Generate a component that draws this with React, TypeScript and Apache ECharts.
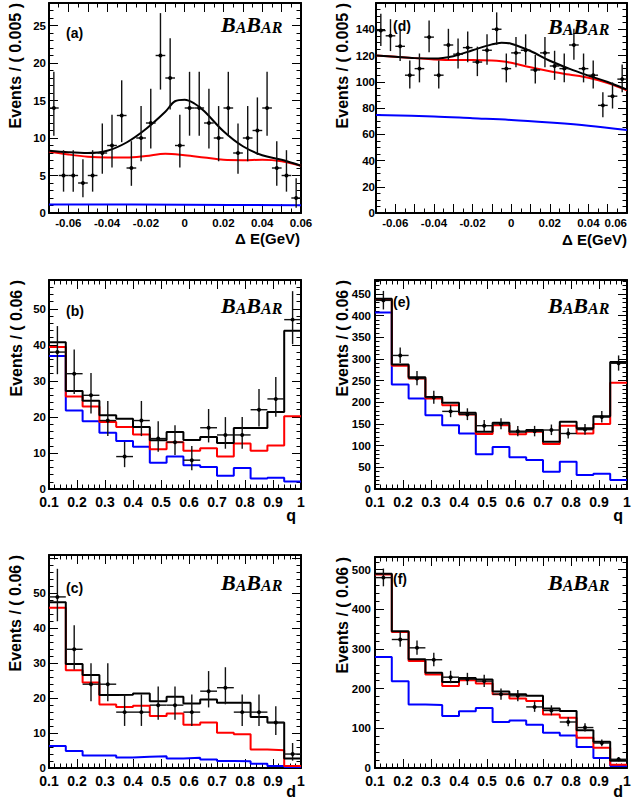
import React, { useEffect, useRef } from "react";
import * as echarts from "echarts";

// ================= DATA =================
// ΔE panels (a) and (d): bin width 0.005 GeV
const dEBinCenters = [
  -0.0675, -0.0625, -0.0575, -0.0525, -0.0475, -0.0425, -0.0375, -0.0325, -0.0275,
  -0.0225, -0.0175, -0.0125, -0.0075, -0.0025, 0.0025, 0.0075, 0.0125, 0.0175,
  0.0225, 0.0275, 0.0325, 0.0375, 0.0425, 0.0475, 0.0525, 0.0575,
];
const dEBinWidth = 0.005;
const aCounts = [14, 5, 5, 4, 5, 8, 9, 13, 6, 10, 12, 21, 18, 9, 14, 14, 12, 10, 14, 8, 10, 11, 14, 6, 5, 2];
const dCounts = [139, 135, 127, 105, 110, 134, 105, 128, 121, 126, 115, 124, 140, 110, 122, 124, 109, 122, 112, 110, 128, 110, 105, 82, 89, 102];

// fit curves
const aTotalX = [-0.07, -0.06, -0.05, -0.04, -0.03, -0.02, -0.01, -0.005, 0, 0.005, 0.01, 0.02, 0.03, 0.04, 0.05, 0.06];
const aTotalY = [8.3, 8.1, 8.0, 8.3, 9.4, 11.2, 13.5, 14.9, 15.1, 14.6, 13.6, 10.9, 8.9, 7.7, 7.1, 6.3];
const aBkgX = [-0.07, -0.06, -0.05, -0.04, -0.03, -0.02, -0.01, 0, 0.01, 0.02, 0.03, 0.04, 0.05, 0.06];
const aBkgY = [8.2, 7.8, 7.5, 7.4, 7.4, 7.6, 7.9, 7.7, 7.4, 7.1, 7.05, 7.1, 6.9, 6.3];
const aCombX = [-0.07, 0, 0.06];
const aCombY = [1.15, 1.1, 1.05];

// fit curves
const dTotalX = [-0.07, -0.06, -0.05, -0.04, -0.03, -0.02, -0.01, -0.005, 0, 0.01, 0.02, 0.03, 0.04, 0.05, 0.06];
const dTotalY = [120, 119, 118, 117.7, 119.5, 124, 128.5, 129.8, 129, 123.4, 116, 110, 104.7, 99.8, 94];
const dBkgX = [-0.07, -0.06, -0.05, -0.04, -0.03, -0.02, -0.01, -0.005, 0, 0.01, 0.02, 0.03, 0.04, 0.05, 0.06];
const dBkgY = [120, 119, 118, 117, 116.5, 116.5, 116.2, 115.6, 114.4, 111, 108, 105.5, 103, 99, 93.4];
const dCombX = [-0.07, -0.04, -0.02, 0, 0.02, 0.04, 0.06];
const dCombY = [74.7, 73.5, 72.2, 70.9, 68.9, 66.5, 63.2];

// q and d panels: bin width 0.06 from 0.1 to 1.0
const binCenters = [0.13, 0.19, 0.25, 0.31, 0.37, 0.43, 0.49, 0.55, 0.61, 0.67, 0.73, 0.79, 0.85, 0.91, 0.97];
const binWidth = 0.06;

const bData = [38, 32, 26, 19, 9, 19, 14, 13, 8, 17, 15, 15, 22, 25, 47];
const bTotal = [40.7, 27.2, 24.5, 20.5, 19.5, 17.2, 13.5, 15.8, 13.6, 14.4, 12.8, 16.9, 16.9, 21.4, 43.9];
const bRed = [39.4, 25.7, 22.9, 18.6, 17.2, 15.1, 11, 13, 10.6, 11.3, 9, 12.6, 10.6, 12.1, 20.2];
const bBlue = [36.9, 21.8, 18.8, 15.6, 13.3, 11.7, 7.3, 9, 6.6, 6.1, 3.7, 5.8, 2.9, 3.1, 2.1];

const eData = [435, 308, 255, 211, 179, 172, 146, 150, 133, 133, 136, 128, 137, 166, 290];
const eTotal = [439, 287, 258, 212, 199, 176, 132, 153, 132, 136, 109, 155, 140, 168, 293];
const eRed = [436, 284, 255, 209, 193, 172, 127, 147, 126, 132, 104, 146, 128, 150, 245];
const eBlue = [407, 241, 209, 170, 147, 128, 80, 97, 73, 67, 40, 63, 32, 35, 21];

const cData = [49, 34, 24, 24, 16, 16, 18, 18, 16, 22, 23, 16, 16, 13, 4];
const cTotal = [47.5, 29.8, 26.6, 20.9, 21, 21.3, 19.1, 20.4, 18.5, 19.6, 18.7, 18.7, 14.6, 13, 2.7];
const cRed = [45.9, 28, 24.5, 18.2, 17.5, 17.8, 14.9, 15.6, 12.4, 13, 10.1, 9.7, 5.3, 5.1, 0.6];
const cBlue = [6.3, 4.9, 3.6, 3.6, 3, 3.2, 3.4, 2.7, 2.9, 2.4, 2, 1.9, 1.2, 0.6, 0.3];

const fData = [480, 324, 303, 273, 229, 224, 219, 186, 182, 154, 145, 116, 102, 63, 22];
const fTotal = [490, 345, 274, 240, 217, 227, 223, 193, 186, 182, 150, 144, 95, 66, 18];
const fRed = [488, 343, 270, 236, 207, 221, 213, 186, 175, 169, 135, 127, 76, 51, 8];
const fBlue = [280, 219, 160, 159, 131, 143, 151, 116, 120, 109, 89, 82, 53, 25, 5];

// ================= HELPERS =================
const SANS = '"Liberation Sans", Arial, Helvetica, sans-serif';
const SERIF = '"Liberation Serif", "Times New Roman", serif';
const RED = "#ff0000";
const BLUE = "#0000ff";
const BLACK = "#000000";

// Poisson 68.3% central interval (Wilson–Hilferty approximation), as drawn for event counts
function poissonLow(n: number) {
  if (n <= 0) return 0;
  const t = 1 - 1 / (9 * n) - 1 / (3 * Math.sqrt(n));
  return n * t * t * t;
}
function poissonHigh(n: number) {
  const m = n + 1;
  const t = 1 - 1 / (9 * m) + 1 / (3 * Math.sqrt(m));
  return m * t * t * t;
}

function dEfmt(v: number) {
  const k = Math.round(v * 100);
  if (k % 2 !== 0) return "";
  return String(+v.toFixed(2));
}
function qfmt(v: number) {
  return String(+v.toFixed(2));
}

type Layout = { left: number; top: number; width: number; height: number };
type PanelSpec = {
  layout: Layout;
  xMin: number; xMax: number; xInt: number; xMinor: number; xFmt: (v: number) => string; xFont: number; xMargin: number; xMaxAlign: string | null;
  yMax: number; yInt: number; yMinor: number; yMargin: number; yLabelTop: number;
};

const panels: PanelSpec[] = [
  { layout: { left: 49, top: 3, width: 252, height: 210 }, xMin: -0.07, xMax: 0.06, xInt: 0.01, xMinor: 2, xFmt: dEfmt, xFont: 11.5, xMargin: 4, xMaxAlign: null, yMax: 28, yInt: 5, yMinor: 5, yMargin: 3, yLabelTop: 25 },
  { layout: { left: 376, top: 3, width: 251, height: 210 }, xMin: -0.07, xMax: 0.06, xInt: 0.01, xMinor: 2, xFmt: dEfmt, xFont: 11.5, xMargin: 4, xMaxAlign: "right", yMax: 160, yInt: 20, yMinor: 4, yMargin: 1, yLabelTop: 140 },
  { layout: { left: 49, top: 280, width: 252, height: 209 }, xMin: 0.1, xMax: 1, xInt: 0.1, xMinor: 5, xFmt: qfmt, xFont: 14, xMargin: 6, xMaxAlign: null, yMax: 58, yInt: 10, yMinor: 5, yMargin: 3, yLabelTop: 50 },
  { layout: { left: 375, top: 280, width: 252, height: 209 }, xMin: 0.1, xMax: 1, xInt: 0.1, xMinor: 5, xFmt: qfmt, xFont: 14, xMargin: 6, xMaxAlign: null, yMax: 482, yInt: 50, yMinor: 5, yMargin: 4, yLabelTop: 450 },
  { layout: { left: 49, top: 555, width: 252, height: 213 }, xMin: 0.1, xMax: 1, xInt: 0.1, xMinor: 5, xFmt: qfmt, xFont: 14, xMargin: 6, xMaxAlign: null, yMax: 61, yInt: 10, yMinor: 5, yMargin: 3, yLabelTop: 50 },
  { layout: { left: 375, top: 557, width: 252, height: 211 }, xMin: 0.1, xMax: 1, xInt: 0.1, xMinor: 5, xFmt: qfmt, xFont: 14, xMargin: 6, xMaxAlign: null, yMax: 532, yInt: 100, yMinor: 5, yMargin: 4, yLabelTop: 500 },
];

function axisBase(gi: number, min: number, max: number, interval: number, minorSplit: number) {
  return {
    type: "value",
    gridIndex: gi,
    min,
    max,
    interval,
    axisLine: { show: true, onZero: false, lineStyle: { color: BLACK, width: 2 } },
    axisTick: { show: true, inside: true, length: 9, lineStyle: { color: BLACK, width: 1 } },
    minorTick: { show: true, splitNumber: minorSplit, length: 4.5, lineStyle: { color: BLACK, width: 1 } },
    splitLine: { show: false },
    minorSplitLine: { show: false },
  };
}

function histSeries(gi: number, centers: number[], vals: number[], w: number, color: string, z: number) {
  const pts: number[][] = centers.map((c, i) => [c - w / 2, vals[i]]);
  pts.push([centers[centers.length - 1] + w / 2, vals[vals.length - 1]]);
  return {
    type: "line",
    xAxisIndex: 2 * gi,
    yAxisIndex: 2 * gi,
    step: "end",
    data: pts,
    showSymbol: false,
    symbol: "none",
    silent: true,
    z,
    lineStyle: { color, width: 2 },
  };
}

function curveSeries(gi: number, xs: number[], ys: number[], color: string, z: number) {
  return {
    type: "line",
    xAxisIndex: 2 * gi,
    yAxisIndex: 2 * gi,
    smooth: 0.35,
    data: xs.map((x, i) => [x, ys[i]]),
    showSymbol: false,
    symbol: "none",
    silent: true,
    z,
    lineStyle: { color, width: 2 },
  };
}

function dataSeries(gi: number, centers: number[], counts: number[], w: number) {
  const half = w / 2;
  return {
    type: "custom",
    xAxisIndex: 2 * gi,
    yAxisIndex: 2 * gi,
    clip: true,
    silent: true,
    z: 10,
    encode: { x: 0, y: 1 },
    data: centers.map((c, i) => [c, counts[i], poissonLow(counts[i]), poissonHigh(counts[i])]),
    renderItem: (_params: any, api: any) => {
      const x = api.value(0);
      const y = api.value(1);
      const lo = api.value(2);
      const hi = api.value(3);
      const pL = api.coord([x - half, y]);
      const pR = api.coord([x + half, y]);
      const pLo = api.coord([x, lo]);
      const pHi = api.coord([x, hi]);
      const c = api.coord([x, y]);
      const st = { stroke: "#111", lineWidth: 1.4 };
      return {
        type: "group",
        children: [
          { type: "line", shape: { x1: pL[0], y1: pL[1], x2: pR[0], y2: pR[1] }, style: st },
          { type: "line", shape: { x1: pLo[0], y1: pLo[1], x2: pHi[0], y2: pHi[1] }, style: st },
          { type: "circle", shape: { cx: c[0], cy: c[1], r: 2 }, style: { fill: "#000" } },
        ],
      };
    },
  };
}

function txt(x: number, y: number, text: string, size: number, align: string, valign: string, extra: any = {}) {
  return {
    type: "text",
    x,
    y,
    silent: true,
    z: 100,
    ...extra,
    style: {
      text,
      fontSize: size,
      fontWeight: "bold",
      fontFamily: SANS,
      fill: "#000",
      align,
      verticalAlign: valign,
      textAlign: align,
      textVerticalAlign: valign,
    },
  };
}

function babar(x: number, y: number) {
  return {
    type: "text",
    x,
    y,
    silent: true,
    z: 100,
    style: {
      text: "{b|B}{s|A}{b|B}{s|AR}",
      align: "left",
      verticalAlign: "bottom",
      textAlign: "left",
      textVerticalAlign: "bottom",
      rich: {
        b: { fontSize: 22, fontStyle: "italic", fontWeight: "bold", fontFamily: SERIF, fill: "#000", color: "#000", verticalAlign: "bottom", lineHeight: 22 },
        s: { fontSize: 16, fontStyle: "italic", fontWeight: "bold", fontFamily: SERIF, fill: "#000", color: "#000", verticalAlign: "bottom", lineHeight: 22 },
      },
    },
  };
}

function buildOption() {
  const grid: any[] = [];
  const xAxis: any[] = [];
  const yAxis: any[] = [];
  panels.forEach((p, gi) => {
    grid.push({ ...p.layout, containLabel: false, outerBoundsMode: "none", show: false });
    const xb = axisBase(gi, p.xMin, p.xMax, p.xInt, p.xMinor);
    const xLabel: any = { show: true, formatter: p.xFmt, fontSize: p.xFont, lineHeight: p.xFont, fontWeight: "bold", fontFamily: SANS, color: "#000", margin: p.xMargin };
    if (p.xMaxAlign) xLabel.alignMaxLabel = p.xMaxAlign;
    xAxis.push({ ...xb, position: "bottom", axisLabel: xLabel });
    xAxis.push({ ...xb, position: "top", axisLabel: { show: false } });
    const yb = axisBase(gi, 0, p.yMax, p.yInt, p.yMinor);
    const top = p.yLabelTop;
    yAxis.push({
      ...yb,
      position: "left",
      axisLabel: {
        show: true,
        showMaxLabel: false,
        formatter: (v: number) => (v > top + 1e-9 ? "" : String(+v.toFixed(2))),
        fontSize: 11.5,
        fontWeight: "bold",
        fontFamily: SANS,
        color: "#000",
        margin: p.yMargin,
      },
    });
    yAxis.push({ ...yb, position: "right", axisLabel: { show: false } });
  });

  const series: any[] = [
    // (a)
    curveSeries(0, aCombX, aCombY, BLUE, 2),
    curveSeries(0, aBkgX, aBkgY, RED, 3),
    curveSeries(0, aTotalX, aTotalY, BLACK, 4),
    dataSeries(0, dEBinCenters, aCounts, dEBinWidth),
    // (d)
    curveSeries(1, dCombX, dCombY, BLUE, 2),
    curveSeries(1, dBkgX, dBkgY, RED, 3),
    curveSeries(1, dTotalX, dTotalY, BLACK, 4),
    dataSeries(1, dEBinCenters, dCounts, dEBinWidth),
    // (b)
    histSeries(2, binCenters, bBlue, binWidth, BLUE, 2),
    histSeries(2, binCenters, bRed, binWidth, RED, 3),
    histSeries(2, binCenters, bTotal, binWidth, BLACK, 4),
    dataSeries(2, binCenters, bData, binWidth),
    // (e)
    histSeries(3, binCenters, eBlue, binWidth, BLUE, 2),
    histSeries(3, binCenters, eRed, binWidth, RED, 3),
    histSeries(3, binCenters, eTotal, binWidth, BLACK, 4),
    dataSeries(3, binCenters, eData, binWidth),
    // (c)
    histSeries(4, binCenters, cBlue, binWidth, BLUE, 2),
    histSeries(4, binCenters, cRed, binWidth, RED, 3),
    histSeries(4, binCenters, cTotal, binWidth, BLACK, 4),
    dataSeries(4, binCenters, cData, binWidth),
    // (f)
    histSeries(5, binCenters, fBlue, binWidth, BLUE, 2),
    histSeries(5, binCenters, fRed, binWidth, RED, 3),
    histSeries(5, binCenters, fTotal, binWidth, BLACK, 4),
    dataSeries(5, binCenters, fData, binWidth),
  ];

  const rot = { rotation: Math.PI / 2 };
  const graphic: any[] = [
    // y-axis titles
    txt(15, 3, "Events / ( 0.005 )", 16, "right", "middle", rot),
    txt(342, 3, "Events / ( 0.005 )", 16, "right", "middle", rot),
    txt(16, 280, "Events / ( 0.06 )", 16, "right", "middle", rot),
    txt(342, 280, "Events / ( 0.06 )", 16, "right", "middle", rot),
    txt(15, 555, "Events / ( 0.06 )", 16, "right", "middle", rot),
    txt(342, 557, "Events / ( 0.06 )", 16, "right", "middle", rot),
    // x-axis titles
    txt(300, 238, "\u0394 E(GeV)", 15, "right", "middle"),
    txt(627, 239, "\u0394 E(GeV)", 15, "right", "middle"),
    txt(296, 515, "q", 16, "right", "middle"),
    txt(623, 515, "q", 16, "right", "middle"),
    txt(296, 791, "d", 16, "right", "middle"),
    txt(623, 791, "d", 16, "right", "middle"),
    // panel tags
    txt(66, 33, "(a)", 14, "left", "middle"),
    txt(393, 26, "(d)", 14, "left", "middle"),
    txt(66, 311, "(b)", 14, "left", "middle"),
    txt(393, 302, "(e)", 14, "left", "middle"),
    txt(66, 588, "(c)", 14, "left", "middle"),
    txt(393, 579, "(f)", 14, "left", "middle"),
    // BaBar logos
    babar(221, 35),
    babar(548, 37),
    babar(221, 316),
    babar(548, 316),
    babar(221, 593),
    babar(548, 593),
  ];

  return {
    animation: false,
    backgroundColor: "#ffffff",
    grid,
    xAxis,
    yAxis,
    series,
    graphic,
  };
}

export default function App() {
  const ref = useRef<HTMLDivElement>(null);
  useEffect(() => {
    if (!ref.current) return;
    const chart = echarts.init(ref.current, null, { renderer: "svg" });
    chart.setOption(buildOption() as any);
    return () => chart.dispose();
  }, []);
  return (
    <div
      ref={ref}
      style={{ position: "absolute", left: 0, top: 0, width: 636, height: 802, background: "#fff" }}
    />
  );
}
